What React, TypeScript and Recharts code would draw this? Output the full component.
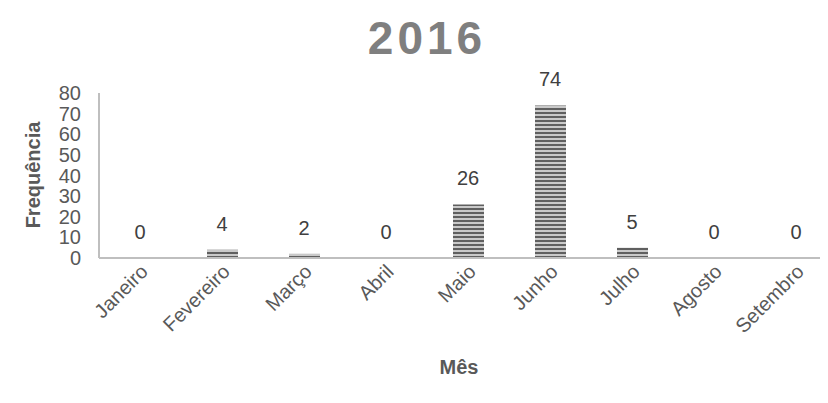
import { ComposedChart, Bar, Line, XAxis, YAxis, LabelList } from 'recharts';

const months = ['Janeiro', 'Fevereiro', 'Março', 'Abril', 'Maio', 'Junho', 'Julho', 'Agosto', 'Setembro'];
const freq = [0, 4, 2, 0, 26, 74, 5, 0, 0];
const yTicks = [0, 10, 20, 30, 40, 50, 60, 70, 80];

const data = months.map((m, i) => ({ mes: m, freq: freq[i] }));

const FONT = '"Liberation Sans", Arial, sans-serif';

const MonthTick = ({ x, y, payload }: any) => (
  <text
    x={x + 9}
    y={y + 7}
    textAnchor="end"
    fill="#595959"
    fontSize={20}
    fontFamily={FONT}
    transform={`rotate(-45, ${x + 9}, ${y + 7})`}
  >
    {payload.value}
  </text>
);

export default function App() {
  return (
    <div style={{ position: 'relative', width: 820, height: 395, overflow: 'hidden' }}>
      <div
        style={{
          position: 'absolute',
          left: 0,
          width: 838,
          top: 3,
          textAlign: 'center',
          fontFamily: FONT,
          fontWeight: 'bold',
          fontSize: 46,
          letterSpacing: 4,
          color: '#7f7f7f',
        }}
      >
        2016
      </div>
      <ComposedChart
        width={840}
        height={395}
        data={data}
        margin={{ top: 85, right: 11, left: 0, bottom: 55 }}
        barSize={31}
      >
        <defs>
          <pattern id="stripes" width="8" height="4" patternUnits="userSpaceOnUse">
            <rect width="8" height="4" fill="#c9c9c9" />
            <rect width="8" height="2" fill="#5f5f5f" />
          </pattern>
        </defs>
        <XAxis
          dataKey="mes"
          height={90}
          interval={0}
          tick={<MonthTick />}
          tickLine={false}
          axisLine={{ stroke: '#bfbfbf', strokeWidth: 2 }}
          label={{
            content: () => (
              <text x={451} y={366} textAnchor="middle" fill="#595959" fontSize={20} fontWeight="bold" fontFamily={FONT}>
                Mês
              </text>
            ),
          }}
        />
        <YAxis
          width={91}
          domain={[0, 80]}
          ticks={yTicks}
          interval={0}
          tickLine={false}
          tickSize={0}
          tickMargin={18}
          axisLine={{ stroke: '#bfbfbf', strokeWidth: 2 }}
          tick={{ fill: '#595959', fontSize: 20, fontFamily: FONT }}
          label={{
            content: () => (
              <text
                x={32}
                y={167}
                textAnchor="middle"
                fill="#595959"
                fontSize={20}
                fontWeight="bold"
                fontFamily={FONT}
                transform="rotate(-90, 32, 167)"
              >
                Frequência
              </text>
            ),
          }}
        />
        <Bar dataKey="freq" fill="url(#stripes)" isAnimationActive={false} />
        <Line dataKey="freq" stroke="none" dot={false} activeDot={false} isAnimationActive={false}>
          <LabelList dataKey="freq" position="top" offset={19} fill="#404040" fontSize={20} fontFamily={FONT} />
        </Line>
      </ComposedChart>
    </div>
  );
}
